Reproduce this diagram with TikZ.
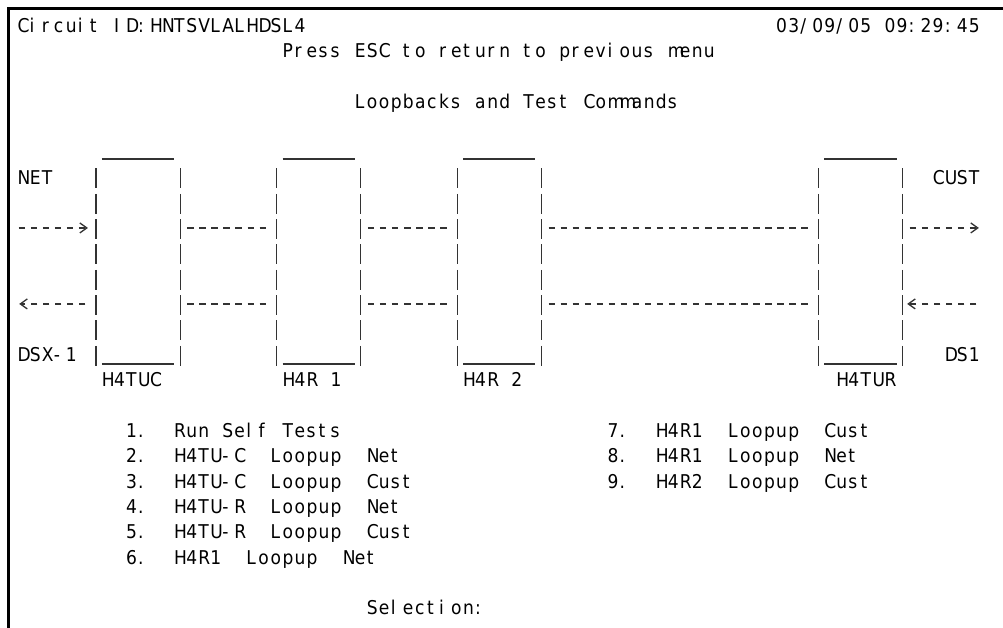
\documentclass[tikz,border=0pt]{standalone}
\usepackage{fontspec}
\newfontfamily\termfont[FakeStretch=0.9]{DejaVu Sans}
\usetikzlibrary{arrows.meta}
% fixed character cell of the terminal
\newlength\cellw
\setlength\cellw{12.04pt}
\makeatletter
% set a string one character per cell, each glyph at the left of its cell; ~ is an empty cell
\newcommand\cells[1]{\cells@next#1\relax}
\def\cells@next#1{\ifx\relax#1\else\ifx~#1\hbox to\cellw{}\else\hbox to\cellw{#1\hss}\fi\expandafter\cells@next\fi}
\makeatother
% column left edge, text baseline and row centre of the character grid
\def\colx#1{(17.7+12.04*(#1))}
\def\base#1{(32.3+25.33*(#1))}
\def\rc#1{(25.3+25.33*(#1))}
\begin{document}
\begin{tikzpicture}[x=1pt,y=-1pt,
  termtext/.style={anchor=base west,inner sep=0pt,outer sep=0pt,
    font=\termfont\fontsize{19}{22}\selectfont,text=black},
  boxarea/.style={draw=none,anchor=north west,inner sep=0pt,outer sep=0pt,
    minimum width=96.32pt,minimum height=207pt},
  barline/.style={draw=black!80,line width=1.3pt,dash pattern=on 20pt off 5.33pt},
  rule/.style={draw=black!80,line width=1.3pt},
  dashconn/.style={draw=black!80,line width=1.3pt,dash pattern=on 6.5pt off 5.54pt},
  chev/.style={-{Straight Barb[length=7pt,width=10pt]}},
  frame/.style={draw=black,line width=3pt,line join=miter}]
\useasboundingbox (0,0) rectangle (1003,628);
\fill[white] (0,0) rectangle (1003,628);
\draw[frame] (8.7,628) -- (8.7,8.7) -- (1003,8.7);

% header
\node[termtext] (cid) at ({\colx{0}},{\base{0}}) {\cells{Circuit~ID:HNTSVLALHDSL4}};
\node[termtext] (stamp) at ({\colx{63}},{\base{0}}) {\cells{03/09/05~09:29:45}};
\node[termtext] (esc) at ({\colx{22}},{\base{1}}) {\cells{Press~ESC~to~return~to~previous~menu}};
\node[termtext] (title) at ({\colx{28}},{\base{3}}) {\cells{Loopbacks~and~Test~Commands}};

% end labels
\node[termtext] (net) at ({\colx{0}},{\base{6}}) {\cells{NET}};
\node[termtext] (cust) at ({\colx{76}},{\base{6}}) {\cells{CUST}};
\node[termtext] (dsx) at ({\colx{0}},{\base{13}}) {\cells{DSX-1}};
\node[termtext] (ds1) at ({\colx{77}},{\base{13}}) {\cells{DS1}};

% units along the circuit
\node[boxarea] (h4tuc) at ({\colx{6}},159) {};
\node[boxarea] (h4r1) at ({\colx{21}},159) {};
\node[boxarea] (h4r2) at ({\colx{36}},159) {};
\node[boxarea] (h4tur) at ({\colx{66}},159) {};
\foreach \b in {h4tuc,h4r1,h4r2,h4tur}{
  \draw[barline] ([shift={(6.02,9.5)}]\b.north west) -- ([xshift=6.02pt]\b.south west);
  \draw[barline] ([shift={(-6.02,9.5)}]\b.north east) -- ([xshift=-6.02pt]\b.south east);
  \draw[rule] ([xshift=12.04pt]\b.north west) -- ([xshift=-12.04pt]\b.north east);
  \draw[rule] ([shift={(12.04,-2)}]\b.south west) -- ([shift={(-12.04,-2)}]\b.south east);
}
\node[termtext] (l1) at ({\colx{7}},{\base{14}}) {\cells{H4TUC}};
\node[termtext] (l2) at ({\colx{22}},{\base{14}}) {\cells{H4R~1}};
\node[termtext] (l3) at ({\colx{37}},{\base{14}}) {\cells{H4R~2}};
\node[termtext] (l4) at ({\colx{68}},{\base{14}}) {\cells{H4TUR}};

% signal paths
\coordinate (r8) at (0,{\rc{8}});
\coordinate (r11) at (0,{\rc{11}});
\coordinate (netin) at ({\colx{0}},{\rc{8}});
\coordinate (netout) at ({\colx{0}+1.5},{\rc{11}});
\coordinate (custout) at ({\colx{79}+10},{\rc{8}});
\coordinate (custin) at ({\colx{80}},{\rc{11}});

\draw[dashconn,dash phase=11pt,chev,shorten >=2pt] (netin) -- (h4tuc.west |- r8);
\draw[dashconn,dash phase=11pt] (h4tuc.east |- r8) -- (h4r1.west |- r8);
\draw[dashconn,dash phase=11pt] (h4r1.east |- r8) -- (h4r2.west |- r8);
\draw[dashconn,dash phase=11pt] (h4r2.east |- r8) -- (h4tur.west |- r8);
\draw[dashconn,dash phase=11pt,chev] (h4tur.east |- r8) -- (custout);

\draw[dashconn,dash phase=7.54pt,chev] (h4tuc.west |- r11) -- (netout);
\draw[dashconn,dash phase=11pt] (h4tuc.east |- r11) -- (h4r1.west |- r11);
\draw[dashconn,dash phase=11pt] (h4r1.east |- r11) -- (h4r2.west |- r11);
\draw[dashconn,dash phase=11pt] (h4r2.east |- r11) -- (h4tur.west |- r11);
\draw[dashconn,dash phase=7.54pt,chev,shorten >=-1.5pt] (custin) -- (h4tur.east |- r11);

% menu
\node[termtext] (m1) at ({\colx{9}},{\base{16}}) {\cells{1.~~Run~Self~Tests}};
\node[termtext] (m2) at ({\colx{9}},{\base{17}}) {\cells{2.~~H4TU-C~~Loopup~~Net}};
\node[termtext] (m3) at ({\colx{9}},{\base{18}}) {\cells{3.~~H4TU-C~~Loopup~~Cust}};
\node[termtext] (m4) at ({\colx{9}},{\base{19}}) {\cells{4.~~H4TU-R~~Loopup~~Net}};
\node[termtext] (m5) at ({\colx{9}},{\base{20}}) {\cells{5.~~H4TU-R~~Loopup~~Cust}};
\node[termtext] (m6) at ({\colx{9}},{\base{21}}) {\cells{6.~~H4R1~~Loopup~~Net}};
\node[termtext] (m7) at ({\colx{49}},{\base{16}}) {\cells{7.~~H4R1~~Loopup~~Cust}};
\node[termtext] (m8) at ({\colx{49}},{\base{17}}) {\cells{8.~~H4R1~~Loopup~~Net}};
\node[termtext] (m9) at ({\colx{49}},{\base{18}}) {\cells{9.~~H4R2~~Loopup~~Cust}};
\node[termtext] (sel) at ({\colx{29}},{\base{23}}) {\cells{Selection:}};
\end{tikzpicture}
\end{document}
